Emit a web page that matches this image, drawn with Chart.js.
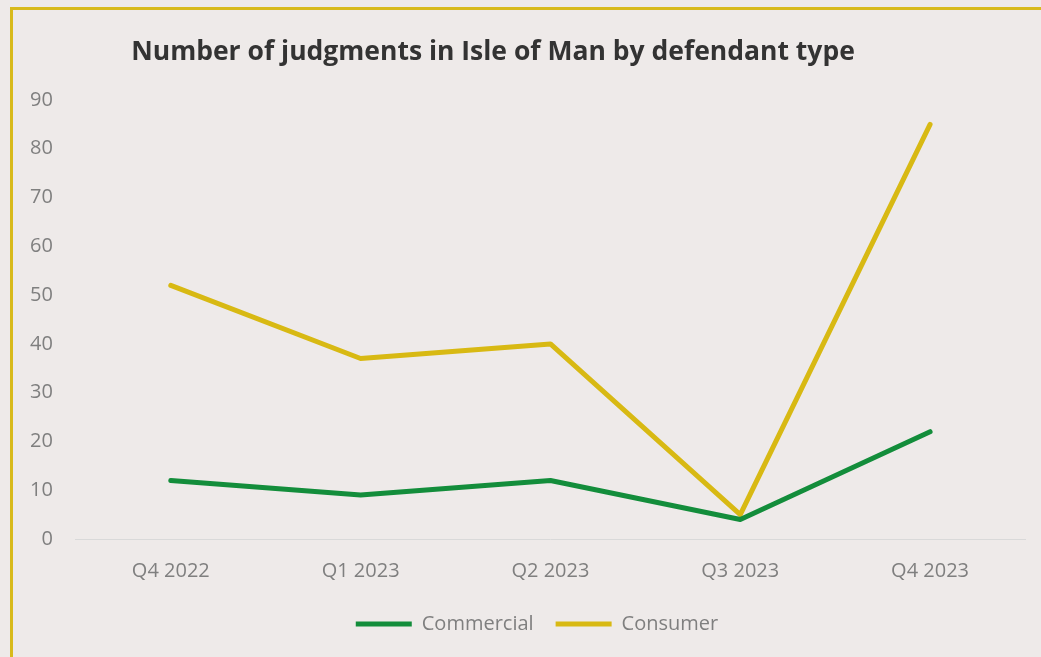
<!DOCTYPE html>
<html>
<head>
<meta charset="utf-8">
<script src="https://cdn.jsdelivr.net/npm/chart.js@4/dist/chart.umd.min.js"></script>
<style>
  html, body { margin: 0; padding: 0; background: #EEEAE9; overflow: hidden; }
  body { width: 1041px; height: 657px; position: relative; }
  .frame { position: absolute; left: 10px; top: 7px; width: 1100px; height: 720px; border: 3px solid #D8BA1C; box-sizing: border-box; }
  .box { position: absolute; left: 0; top: 10px; width: 1041px; height: 647px; }
</style>
</head>
<body>
<div class="frame"></div>
<div class="box"><canvas id="myChart"></canvas></div>
<script>
// chart data
const quarters = ['Q4 2022', 'Q1 2023', 'Q2 2023', 'Q3 2023', 'Q4 2023'];
const commercial = [12, 9, 12, 4, 22];
const consumer = [52, 37, 40, 5, 85];
const yTicks = [0, 10, 20, 30, 40, 50, 60, 70, 80, 90];

const titleText = 'Number of judgments in Isle of Man by defendant type';
const grey = '#7F7F7F';
const font = '"Open Sans", sans-serif';

// title sits left of the chart centre in the original, so draw it ourselves
const titlePlugin = {
    id: 'offsetTitle',
    afterLayout(chart) {
        // legend is a bit right of centre too
        chart.legend.left += 17;
        chart.legend.right += 17;
    },
    afterDraw(chart) {
        const ctx = chart.ctx;
        ctx.save();
        ctx.font = 'bold 26.5px ' + font;
        ctx.fillStyle = '#333333';
        ctx.textAlign = 'center';
        ctx.textBaseline = 'middle';
        ctx.fillText(titleText, 493, 42);
        ctx.restore();
    }
};

new Chart(document.getElementById('myChart'), {
    type: 'line',
    data: {
        labels: quarters,
        datasets: [
            {
                label: 'Commercial',
                data: commercial,
                borderColor: '#138D3B',
                backgroundColor: '#138D3B',
                borderWidth: 5,
                borderCapStyle: 'round',
                borderJoinStyle: 'round',
                pointRadius: 0,
                tension: 0
            },
            {
                label: 'Consumer',
                data: consumer,
                borderColor: '#D8B913',
                backgroundColor: '#D8B913',
                borderWidth: 5,
                borderCapStyle: 'round',
                borderJoinStyle: 'round',
                pointRadius: 0,
                tension: 0
            }
        ]
    },
    options: {
        responsive: true,
        maintainAspectRatio: false,
        animation: false,
        layout: { padding: { top: 90, left: 15, right: 16, bottom: 13 } },
        plugins: {
            title: { display: false },
            tooltip: { enabled: false },
            legend: {
                position: 'bottom',
                labels: {
                    usePointStyle: true,
                    pointStyle: 'line',
                    pointStyleWidth: 56,
                    boxHeight: 20,
                    padding: 22,
                    color: grey,
                    font: { family: font, size: 20 }
                }
            }
        },
        scales: {
            x: {
                offset: true,
                grid: { display: false },
                border: { display: true, color: '#D9D9D9', width: 1 },
                ticks: {
                    color: grey,
                    padding: 12,
                    font: { family: font, size: 20 }
                },
                afterFit(axis) { axis.height -= 3; }
            },
            y: {
                min: 0,
                max: 90,
                afterBuildTicks(axis) { axis.ticks = yTicks.map(v => ({ value: v })); },
                grid: { display: false },
                border: { display: false },
                ticks: {
                    color: grey,
                    padding: 15,
                    font: { family: font, size: 20 }
                }
            }
        }
    },
    plugins: [titlePlugin]
});
</script>
</body>
</html>
